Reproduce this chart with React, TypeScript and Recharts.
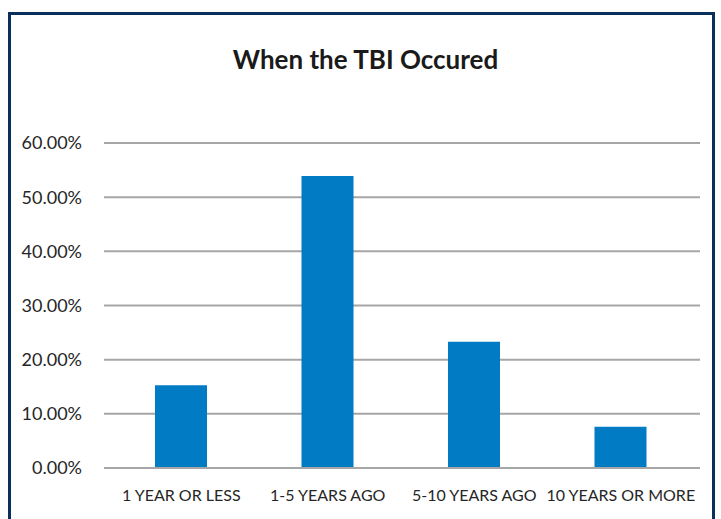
import { BarChart, Bar, XAxis, YAxis, CartesianGrid } from 'recharts'

const categories = ['1 YEAR OR LESS', '1-5 YEARS AGO', '5-10 YEARS AGO', '10 YEARS OR MORE']
const shares = [15.3, 53.9, 23.3, 7.6]
const yTicks = [0, 10, 20, 30, 40, 50, 60]

const data = categories.map((name, i) => ({ name, value: shares[i] }))

const font = 'Lato, "Open Sans", sans-serif'

export default function App() {
    return (
        <div style={{ position: 'absolute', left: 0, top: 0, width: 721, height: 519, background: '#fff', overflow: 'hidden', fontFamily: font }}>
            <div
                style={{
                    position: 'absolute',
                    left: 8,
                    top: 12,
                    width: 707,
                    height: 530,
                    border: '3px solid #0b2f5c',
                    boxSizing: 'border-box',
                }}
            />
            <div
                style={{
                    position: 'absolute',
                    left: 0,
                    top: 43,
                    width: 731,
                    textAlign: 'center',
                    fontSize: 26,
                    fontWeight: 700,
                    color: '#1a1a1a',
                }}
            >
                When the TBI Occured
            </div>
            <div style={{ position: 'absolute', left: 0, top: 0 }}>
                <BarChart width={721} height={519} data={data} margin={{ top: 143, right: 21, bottom: 15, left: 0 }}>
                    <CartesianGrid vertical={false} stroke="#a6a6a6" strokeWidth={2} />
                    <XAxis
                        dataKey="name"
                        height={36}
                        padding={{ left: 4, right: 6 }}
                        tickLine={false}
                        axisLine={{ stroke: '#a6a6a6', strokeWidth: 2 }}
                        tick={{ fill: '#262626', fontSize: 16, fontFamily: font }}
                        tickMargin={16}
                        interval={0}
                    />
                    <YAxis
                        width={104}
                        domain={[0, 60]}
                        ticks={yTicks}
                        tickFormatter={(v) => `${v.toFixed(2)}%`}
                        tickLine={false}
                        axisLine={false}
                        tick={{ fill: '#262626', fontSize: 18, fontFamily: font }}
                        tickMargin={16}
                    />
                    <Bar dataKey="value" fill="#007bc4" barSize={52} isAnimationActive={false} />
                </BarChart>
            </div>
        </div>
    )
}
